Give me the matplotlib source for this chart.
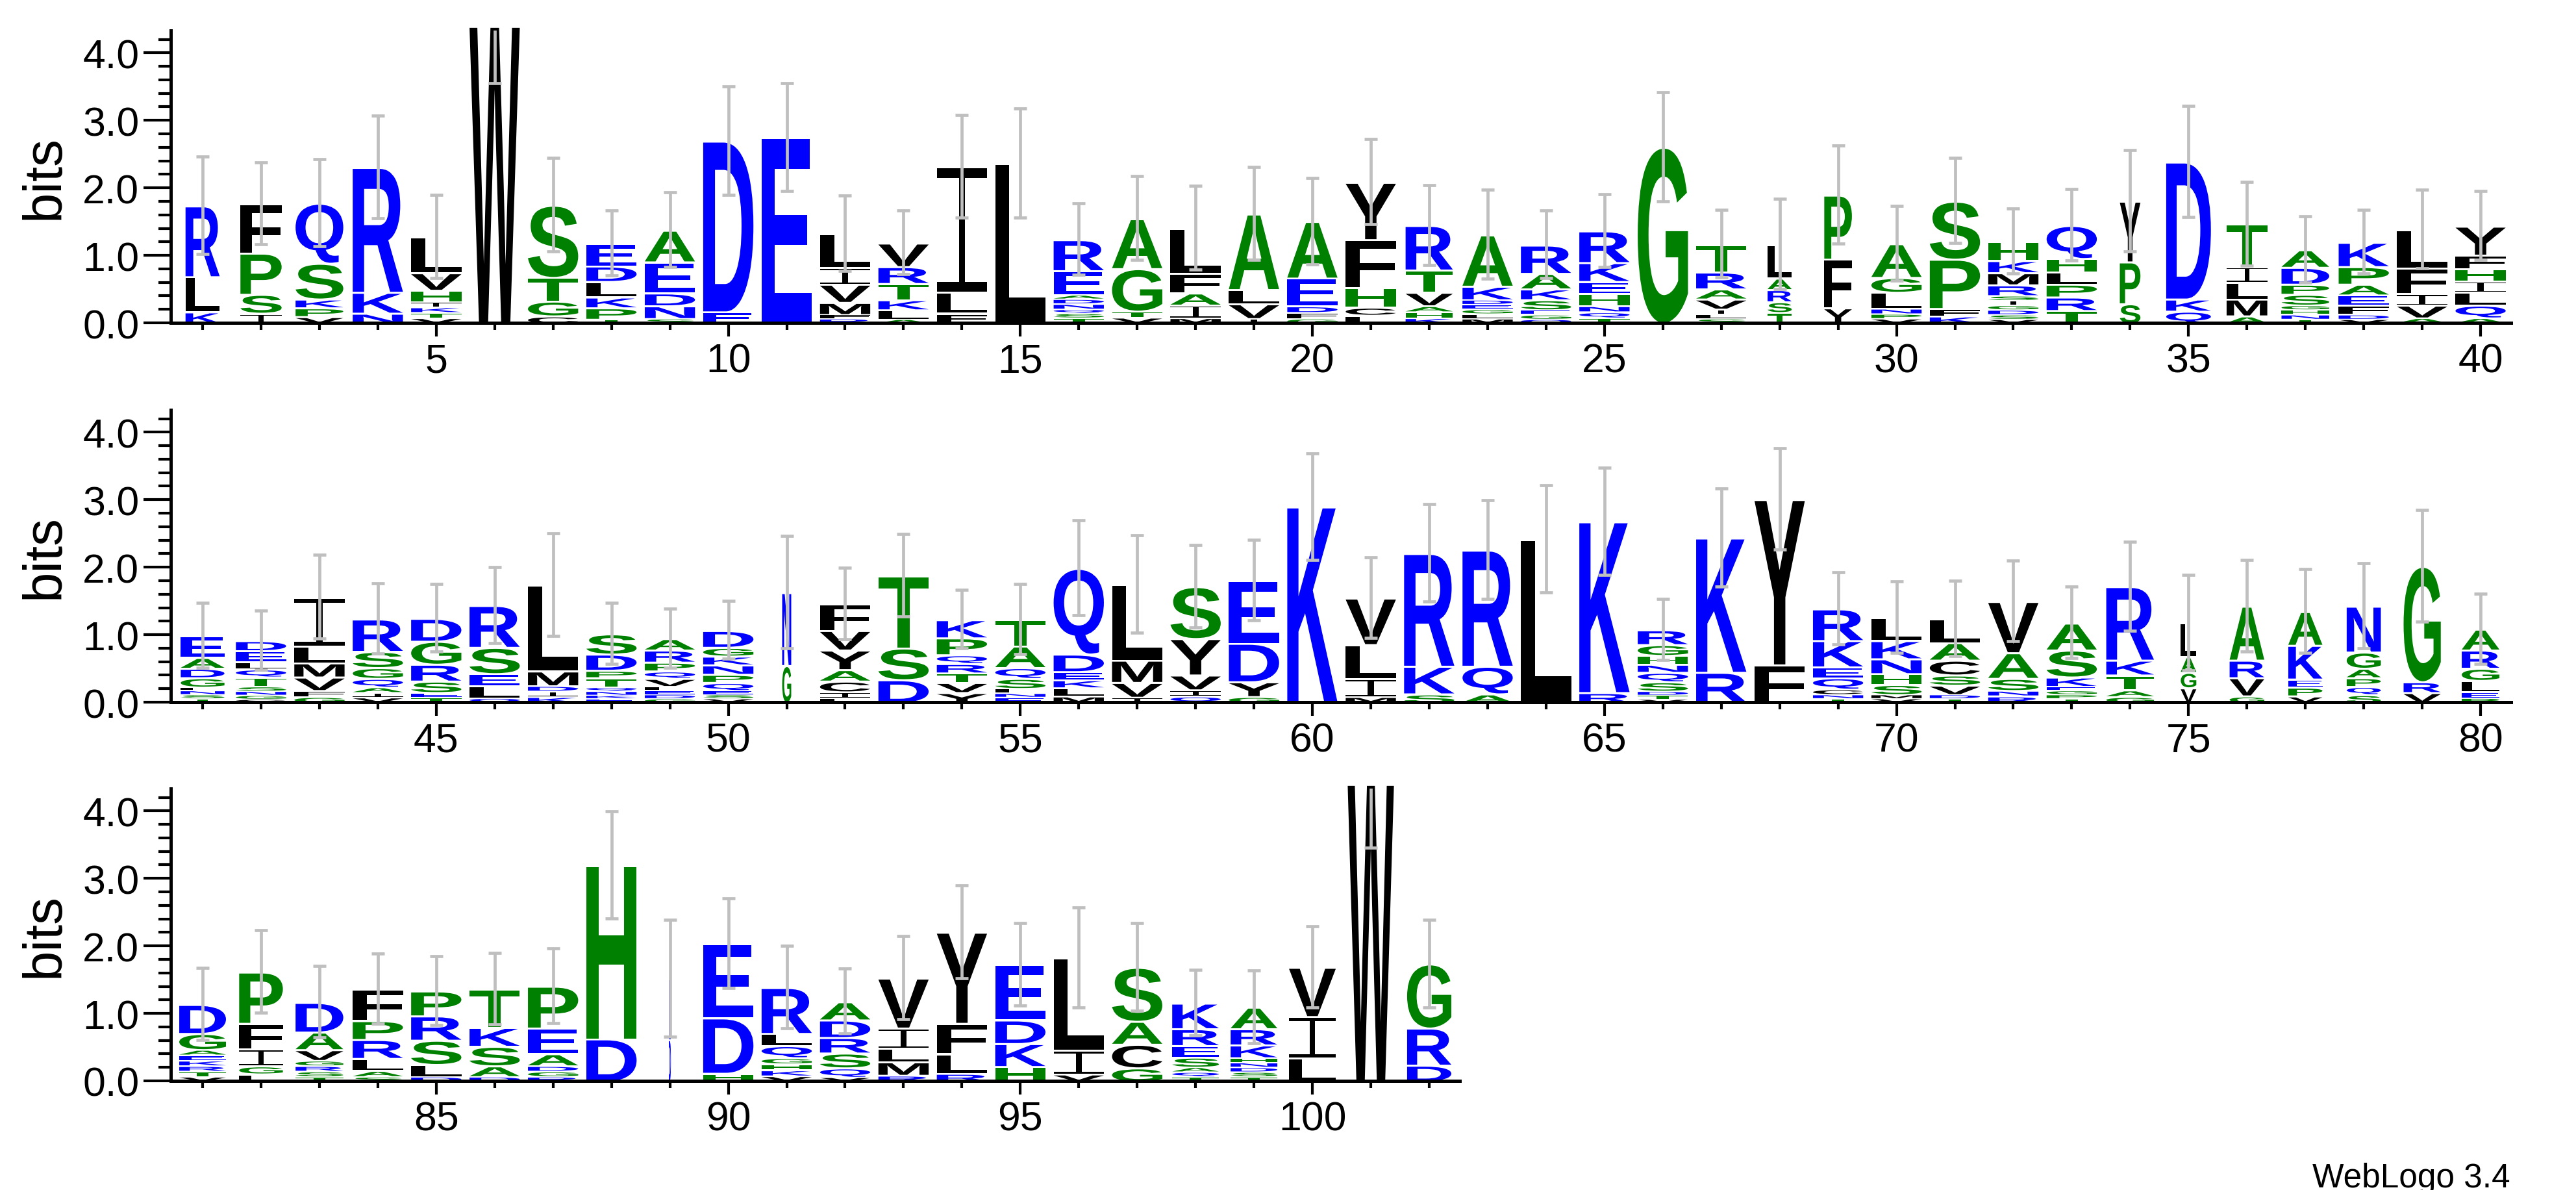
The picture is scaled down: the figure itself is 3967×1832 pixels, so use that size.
import numpy as np
import matplotlib
matplotlib.use("Agg")
import matplotlib.pyplot as plt
from matplotlib.textpath import TextPath
from matplotlib.font_manager import FontProperties
from matplotlib.patches import PathPatch
from matplotlib.path import Path
from matplotlib.transforms import Affine2D

# letters of each stack, bottom -> top (positions 1..102)
letters = [
    "KLR", "ISPF", "VPKSQ", "NKR", "VTKIHVL", "W", "CGTS", "TPKLDE", "SNDEA", "ED",
    "E", "RFMVIL", "ALKTRV", "FLI", "L", "TSQNDAER", "VTGA", "MIAFL", "IVLA", "GFDEA",
    "LCHFY", "KHAVTR", "MLGEDKA", "QGESKAR", "TQNHEKR", "G", "SLIVART", "TSRAL", "YFP", "VPNLGA",
    "KFPS", "VSDGISRMKH", "TRPLHQ", "SPY", "QKD", "AMLIT", "TNHGSPDA", "VDFEAPK", "AVIFL", "AQLIHFY",
    "TSNLGDAE", "CGNSTQLED", "GFVMLI", "VIAQGSR", "TESRGD", "QLESR", "KIDML", "EKNQTPDS", "GDELVQPRA", "VSEQPNKGD",
    "GN", "LICAYVF", "DST", "YVTRQPK", "ENLSQAT", "MLKEDQ", "IVML", "QIVYS", "GYDE", "K",
    "MILV", "SKR", "AQR", "L", "RK", "VTDSQNHGR", "RK", "FY", "TNCQEKR", "VMSHNKL",
    "TDVSCAL", "RNSAV", "TPGEKSA", "GATKR", "VGAL", "GVRA", "VPEKA", "SQPAGN", "VRG", "PELGRA",
    "VTRKEAGD", "LGIFP", "TSRGVAD", "SALRPF", "DLSRP", "DASKT", "RGDAEP", "DH", "DE", "HDE",
    "VKHGQLR", "VQSRDA", "RMLIV", "RLFY", "HKDE", "VIL", "GCAS", "TQASERK", "TSDNHKRA", "LIV",
    "W", "DRG",
]

# height of each letter in bits, same order
heights = [
    [0.17, 0.52, 1.05], [0.15, 0.28, 0.61, 0.73], [0.10, 0.13, 0.13, 0.53, 0.89], [0.15, 0.31, 1.85],
    [0.08, 0.08, 0.08, 0.08, 0.17, 0.26, 0.53], [4.40], [0.11, 0.22, 0.35, 1.07],
    [0.06, 0.17, 0.16, 0.23, 0.23, 0.33], [0.07, 0.19, 0.19, 0.46, 0.47], [0.17, 2.53],
    [2.75], [0.07, 0.06, 0.18, 0.27, 0.25, 0.50], [0.06, 0.14, 0.15, 0.24, 0.25, 0.35],
    [0.15, 0.31, 1.86], [2.37], [0.08, 0.07, 0.06, 0.08, 0.07, 0.06, 0.36, 0.46],
    [0.09, 0.09, 0.63, 0.74], [0.08, 0.19, 0.18, 0.29, 0.67], [0.07, 0.22, 0.21, 1.12],
    [0.07, 0.09, 0.10, 0.41, 0.84],
    [0.12, 0.12, 0.29, 0.71, 0.85], [0.08, 0.09, 0.09, 0.20, 0.33, 0.66],
    [0.07, 0.07, 0.07, 0.07, 0.07, 0.20, 0.76], [0.06, 0.07, 0.07, 0.15, 0.16, 0.23, 0.42],
    [0.08, 0.09, 0.09, 0.18, 0.18, 0.28, 0.47], [2.61], [0.07, 0.06, 0.08, 0.15, 0.15, 0.25, 0.41],
    [0.16, 0.16, 0.18, 0.17, 0.50], [0.23, 0.72, 0.95], [0.07, 0.07, 0.08, 0.24, 0.22, 0.50],
    [0.11, 0.11, 0.73, 0.86], [0.06, 0.07, 0.07, 0.07, 0.07, 0.07, 0.16, 0.18, 0.18, 0.28],
    [0.19, 0.20, 0.19, 0.18, 0.20, 0.49], [0.29, 0.62, 0.90], [0.18, 0.18, 2.03],
    [0.11, 0.25, 0.25, 0.23, 0.63], [0.06, 0.07, 0.07, 0.07, 0.16, 0.15, 0.25, 0.26],
    [0.06, 0.07, 0.14, 0.15, 0.16, 0.26, 0.36], [0.08, 0.19, 0.17, 0.38, 0.57],
    [0.08, 0.19, 0.19, 0.17, 0.18, 0.20, 0.43],
    [0.06, 0.06, 0.06, 0.05, 0.14, 0.14, 0.16, 0.32], [0.05, 0.06, 0.06, 0.07, 0.14, 0.12, 0.11, 0.16, 0.15],
    [0.09, 0.09, 0.20, 0.21, 0.25, 0.72], [0.08, 0.07, 0.08, 0.13, 0.16, 0.24, 0.48],
    [0.08, 0.07, 0.17, 0.25, 0.34, 0.34], [0.07, 0.18, 0.18, 0.39, 0.62], [0.09, 0.08, 0.08, 0.22, 1.27],
    [0.06, 0.05, 0.06, 0.06, 0.14, 0.11, 0.24, 0.30], [0.06, 0.06, 0.06, 0.06, 0.12, 0.11, 0.13, 0.18, 0.17],
    [0.06, 0.06, 0.06, 0.12, 0.12, 0.14, 0.13, 0.13, 0.25],
    [0.55, 1.08], [0.07, 0.09, 0.16, 0.17, 0.29, 0.29, 0.39], [0.34, 0.47, 1.07],
    [0.15, 0.15, 0.14, 0.14, 0.13, 0.25, 0.27], [0.08, 0.06, 0.07, 0.15, 0.16, 0.32, 0.39],
    [0.10, 0.12, 0.12, 0.12, 0.26, 1.27], [0.08, 0.22, 0.33, 1.12], [0.10, 0.09, 0.22, 0.54, 0.77],
    [0.09, 0.22, 0.57, 0.93], [2.90],
    [0.09, 0.27, 0.50, 0.69], [0.13, 0.41, 1.67], [0.13, 0.41, 1.72], [2.42], [0.15, 2.53],
    [0.05, 0.06, 0.06, 0.14, 0.14, 0.12, 0.13, 0.16, 0.22], [0.45, 1.99], [0.56, 2.45],
    [0.06, 0.06, 0.08, 0.17, 0.16, 0.39, 0.47], [0.06, 0.06, 0.15, 0.16, 0.22, 0.27, 0.34],
    [0.06, 0.06, 0.14, 0.15, 0.22, 0.26, 0.35], [0.10, 0.08, 0.18, 0.38, 0.76],
    [0.06, 0.06, 0.06, 0.06, 0.14, 0.40, 0.40], [0.09, 0.10, 0.22, 0.22, 1.09], [0.22, 0.23, 0.23, 0.50],
    [0.10, 0.27, 0.26, 0.80], [0.10, 0.13, 0.12, 0.50, 0.50], [0.12, 0.12, 0.13, 0.14, 0.24, 0.68],
    [0.15, 0.16, 1.71], [0.07, 0.09, 0.17, 0.18, 0.27, 0.31],
    [0.07, 0.08, 0.08, 0.08, 0.08, 0.08, 0.24, 0.43], [0.11, 0.12, 0.25, 0.38, 0.76],
    [0.07, 0.08, 0.08, 0.08, 0.16, 0.26, 0.44], [0.07, 0.09, 0.18, 0.28, 0.28, 0.47],
    [0.07, 0.18, 0.36, 0.36, 0.37], [0.07, 0.16, 0.29, 0.28, 0.57], [0.07, 0.08, 0.08, 0.18, 0.38, 0.62],
    [0.63, 2.57], [0.62, 0.90], [0.12, 0.82, 1.10],
    [0.08, 0.09, 0.09, 0.09, 0.18, 0.18, 0.68], [0.06, 0.14, 0.22, 0.23, 0.26, 0.27],
    [0.09, 0.20, 0.20, 0.30, 0.74], [0.12, 0.29, 0.45, 1.35], [0.22, 0.34, 0.35, 0.82],
    [0.11, 0.35, 1.37], [0.20, 0.35, 0.34, 0.80], [0.07, 0.07, 0.07, 0.15, 0.17, 0.25, 0.38],
    [0.07, 0.07, 0.07, 0.07, 0.07, 0.19, 0.24, 0.32], [0.35, 0.61, 0.73],
    [4.40], [0.24, 0.55, 0.95],
]

# relative stack width (fraction of sequences present)
widths = [
    0.68, 0.82, 0.95, 1, 1, 1, 1, 1, 1, 1,
    1, 1, 1, 1, 1, 1, 1, 1, 1, 1,
    1, 0.94, 1, 1, 1, 1, 1, 0.48, 0.55, 1,
    1, 1, 1, 0.41, 0.89, 0.81, 0.95, 1, 1, 1,
    0.87, 1, 1, 1, 1, 1, 1, 1, 1, 1,
    0.18, 1, 1, 1, 1, 1, 1, 1, 1, 1,
    1, 1, 1, 1, 1, 1, 1, 1, 1, 1,
    1, 1, 1, 0.95, 0.31, 0.69, 0.68, 0.68, 0.74, 0.75,
    0.93, 0.87, 0.95, 1, 1, 1, 1, 1, 0.04, 1,
    1, 1, 1, 1, 1, 1, 1, 0.93, 0.93, 0.93,
    0.92, 0.88,
]

# error bar half-heights (bits)
errs = [
    0.72, 0.61, 0.64, 0.76, 0.62, 0.85, 0.69, 0.48, 0.55, 0.80,
    0.80, 0.56, 0.47, 0.76, 0.81, 0.53, 0.62, 0.62, 0.69, 0.64,
    0.63, 0.59, 0.66, 0.50, 0.54, 0.81, 0.50, 0.67, 0.73, 0.55,
    0.63, 0.48, 0.53, 0.75, 0.82, 0.62, 0.49, 0.47, 0.58, 0.51,
    0.48, 0.44, 0.62, 0.52, 0.50, 0.56, 0.76, 0.45, 0.44, 0.43,
    0.83, 0.53, 0.61, 0.43, 0.52, 0.70, 0.72, 0.61, 0.60, 0.79,
    0.60, 0.72, 0.73, 0.79, 0.79, 0.45, 0.73, 0.75, 0.53, 0.53,
    0.56, 0.60, 0.53, 0.66, 0.71, 0.68, 0.62, 0.63, 0.83, 0.52,
    0.53, 0.61, 0.53, 0.52, 0.51, 0.53, 0.55, 0.79, 0.87, 0.66,
    0.61, 0.48, 0.62, 0.69, 0.61, 0.74, 0.65, 0.49, 0.54, 0.60,
    0.95, 0.65,
]

rows = [(1, 40), (41, 80), (81, 102)]

colors = {}
for c in "DEKRNQ":
    colors[c] = "#0000ff"
for c in "GSTAPH":
    colors[c] = "#008000"
for c in "LIVMFYWC":
    colors[c] = "#000000"

W, H = 3967, 1833
fig = plt.figure(figsize=(W / 100, H / 100), dpi=100)
plt.rcParams['font.family'] = ['Liberation Sans', 'DejaVu Sans']

fp = FontProperties(family="Liberation Sans", weight="bold")
glyphs = {}


def serif_i():
    # weblogo draws I with bars top and bottom
    t, s = 0.08, 0.06
    verts = [(0, 0), (1, 0), (1, t), (0.5 + s, t), (0.5 + s, 1 - t), (1, 1 - t),
             (1, 1), (0, 1), (0, 1 - t), (0.5 - s, 1 - t), (0.5 - s, t), (0, t), (0, 0)]
    codes = [Path.MOVETO] + [Path.LINETO] * 11 + [Path.CLOSEPOLY]
    return Path(verts, codes)


def glyph(ch):
    if ch not in glyphs:
        if ch == "I":
            p = serif_i()
        else:
            p = TextPath((0, 0), ch, size=1, prop=fp)
        glyphs[ch] = (p, p.get_extents())
    return glyphs[ch]


def draw_letter(ax, ch, x, y, w, h):
    p, bb = glyph(ch)
    gap = min(0.03, 0.3 * h)
    hh = h - gap
    tr = (Affine2D().translate(-bb.x0, -bb.y0)
          .scale(w / bb.width, hh / bb.height)
          .translate(x - w / 2, y))
    ax.add_patch(PathPatch(tr.transform_path(p), fc=colors[ch], ec="none",
                           lw=0, clip_on=False, zorder=2))


px_per_pos = 89.95
left_px = 263
ax_h = 450 / H
baselines = [498, 1082, 1665]
full_w = 0.86

for (first, last), base in zip(rows, baselines):
    x0 = first - 0.545
    x1 = last + 0.52
    ax = fig.add_axes([left_px / W, 1 - base / H, (x1 - x0) * px_per_pos / W, ax_h])
    ax.set_xlim(x0, x1)
    ax.set_ylim(0, 4.33)

    for pos in range(first, last + 1):
        i = pos - 1
        w = full_w * widths[i]
        y = 0.0
        for ch, h in zip(letters[i], heights[i]):
            draw_letter(ax, ch, pos, y, w, h)
            y += h
        ax.errorbar(pos, y, yerr=errs[i], fmt="none", ecolor="#bfbfbf",
                    elinewidth=3.4, capsize=7.5, capthick=3.4, zorder=3)

    for s in ("top", "right"):
        ax.spines[s].set_visible(False)
    for s in ("left", "bottom"):
        ax.spines[s].set_linewidth(3.6)

    ax.set_xticks([p for p in range(first, last + 1) if p % 5 == 0])
    ax.set_xticks(list(range(first, last + 1)), minor=True)
    ax.set_xticklabels([str(p) for p in range(first, last + 1) if p % 5 == 0])
    ax.set_yticks([0, 1, 2, 3, 4])
    ax.set_yticklabels(["0.0", "1.0", "2.0", "3.0", "4.0"])
    ax.set_yticks(np.arange(0, 4.3, 0.2), minor=True)
    ax.tick_params(axis="x", which="major", length=15, width=3, labelsize=45, pad=6)
    ax.tick_params(axis="x", which="minor", length=8, width=3)
    ax.tick_params(axis="y", which="major", length=30, width=3, labelsize=45, pad=5)
    ax.tick_params(axis="y", which="minor", length=14, width=3)

    fig.text(69 / W, 1 - base / H + ax_h / 2, "bits", rotation=90,
             ha="center", va="center", fontsize=60)

fig.text(3866 / W, 1 - 1828 / H, "WebLogo 3.4", ha="right", va="baseline", fontsize=37)

fig.savefig("out.png", dpi=100)
